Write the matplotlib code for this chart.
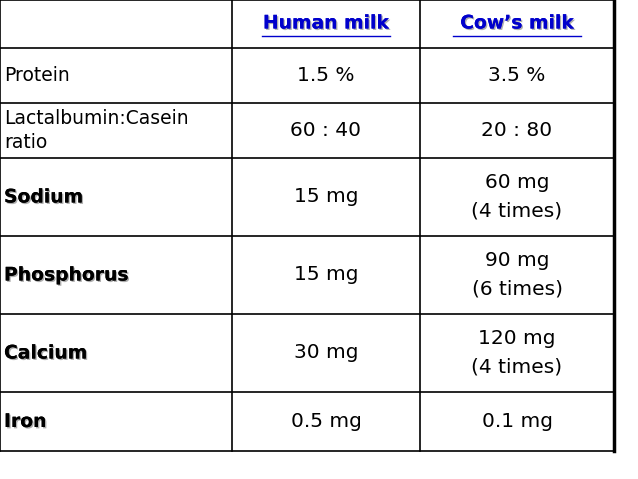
import matplotlib.pyplot as plt
import matplotlib.patheffects as pe

headers = ["Human milk", "Cow\u2019s milk"]
row_labels = ["Protein", "Lactalbumin:Casein\nratio", "Sodium", "Phosphorus", "Calcium", "Iron"]
label_bold = [False, False, True, True, True, True]
human = ["1.5 %", "60 : 40", "15 mg", "15 mg", "30 mg", "0.5 mg"]
cow = ["3.5 %", "20 : 80", "60 mg\n(4 times)", "90 mg\n(6 times)", "120 mg\n(4 times)", "0.1 mg"]

# pixel grid
col_x = [0, 232, 420, 614]
row_y = [0, 48, 103, 158, 236, 314, 392, 451]

fig = plt.figure(figsize=(6.38, 4.79), dpi=100)
ax = fig.add_axes([0, 0, 1, 1])
ax.set_xlim(0, 638)
ax.set_ylim(479, 0)
ax.axis("off")

for y in row_y:
    ax.plot([0, 614], [y, y], color="black", lw=1.2)
for i, x in enumerate(col_x):
    lw = 2.5 if i == 3 else 1.2
    ax.plot([x, x], [0, 451], color="black", lw=lw)

font = "DejaVu Sans"
shadow = [pe.withSimplePatchShadow(offset=(1, -1), shadow_rgbFace="#999999", alpha=0.8), pe.Normal()]

for j, h in enumerate(headers):
    cx = (col_x[j + 1] + col_x[j + 2]) / 2
    ax.text(cx, 23, h, ha="center", va="center", fontsize=13.5, color="#0000cc",
            family=font, fontweight="bold", path_effects=shadow)
    ax.plot([cx - 64, cx + 64], [36, 36], color="#0000cc", lw=1)

for i in range(len(row_labels)):
    cy = (row_y[i + 1] + row_y[i + 2]) / 2
    if label_bold[i]:
        ax.text(4, cy, row_labels[i], ha="left", va="center", fontsize=13.5,
                fontweight="bold", family=font, path_effects=shadow, linespacing=1.4)
    else:
        ax.text(4, cy, row_labels[i], ha="left", va="center", fontsize=13.5,
                family=font, linespacing=1.4)
    ax.text((col_x[1] + col_x[2]) / 2, cy, human[i], ha="center", va="center",
            fontsize=14.5, family=font)
    ax.text((col_x[2] + col_x[3]) / 2, cy, cow[i], ha="center", va="center",
            fontsize=14.5, family=font, linespacing=1.6)

fig.savefig("out.png", dpi=100)
